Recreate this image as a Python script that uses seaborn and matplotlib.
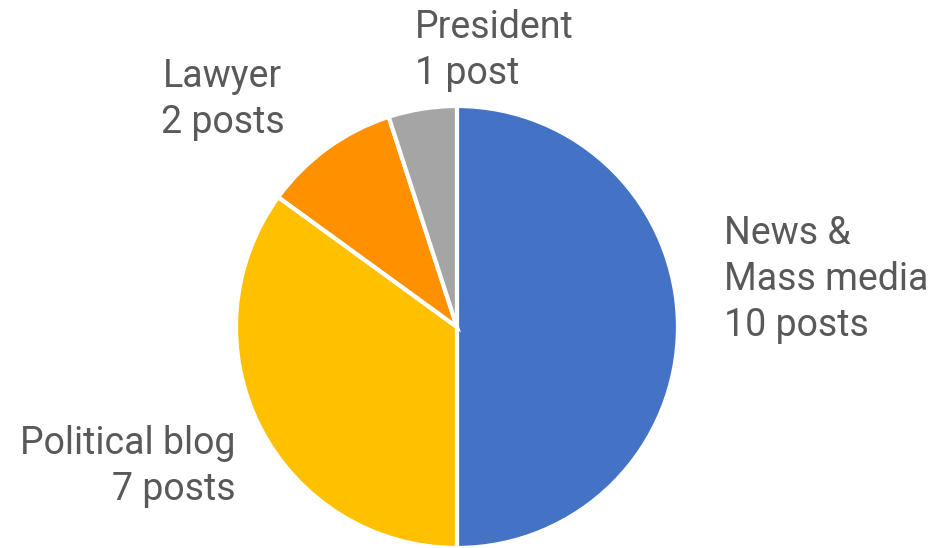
import matplotlib
matplotlib.use("Agg")
import matplotlib.pyplot as plt
import seaborn as sns

sns.set_theme(style="white")
plt.rcParams['font.family'] = ['Roboto', 'DejaVu Sans']

# data
categories = ["News &\nMass media", "Political blog", "Lawyer", "President"]
posts = [10, 7, 2, 1]
count_labels = ["10 posts", "7 posts", "2 posts", "1 post"]
colors = ["#4472C4", "#FFC000", "#FF9100", "#A5A5A5"]

fig = plt.figure(figsize=(9.35, 5.48), dpi=100)
ax = fig.add_axes([0.2524, 0.0, 0.4727, 0.8066])

ax.pie(posts, colors=colors, startangle=90, counterclock=False,
       wedgeprops=dict(edgecolor="white", linewidth=3))
ax.set_xlim(-1, 1)
ax.set_ylim(-1, 1)
ax.set_aspect("equal")
ax.axis("off")

# label placement (data units, pie radius = 1)
label_pos = [(1.208, 0.215, "left"), (-1.0, -0.63, "right"),
             (-1.06, 1.03, "center"), (-0.19, 1.25, "left")]
for cat, cnt, (x, y, ha) in zip(categories, count_labels, label_pos):
    ax.text(x, y, f"{cat}\n{cnt}", ha=ha, va="center", fontsize=27,
            color="#595959", linespacing=1.3, clip_on=False)

fig.savefig("out.png", dpi=100)
